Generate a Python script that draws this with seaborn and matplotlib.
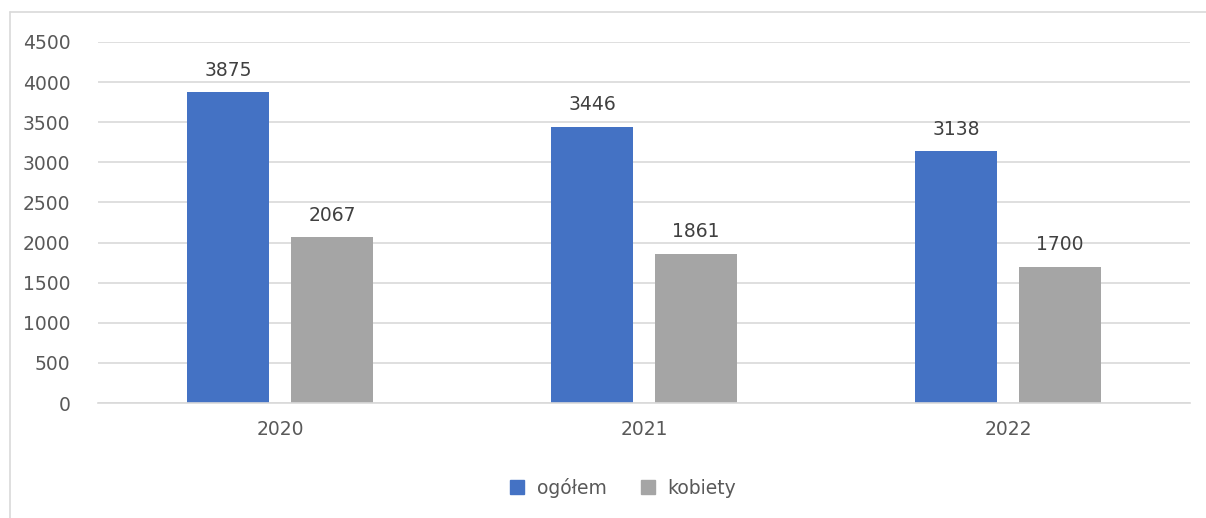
import pandas as pd
import seaborn as sns
import matplotlib.pyplot as plt
from matplotlib.lines import Line2D

# data
years = ['2020', '2021', '2022']
ogolem = [3875, 3446, 3138]
kobiety = [2067, 1861, 1700]
series_names = ['ogółem', 'kobiety']
colors = ['#4472C4', '#A5A5A5']
y_ticks = [0, 500, 1000, 1500, 2000, 2500, 3000, 3500, 4000, 4500]

df = pd.DataFrame({
    'rok': years * 2,
    'seria': [series_names[0]] * 3 + [series_names[1]] * 3,
    'liczba': ogolem + kobiety,
})

sns.set_style('white')
plt.rcParams['font.family'] = ['DejaVu Sans']

fig = plt.figure(figsize=(12.06, 5.18), dpi=100)
ax = fig.add_axes([0.0813, 0.222, 0.9054, 0.697])

sns.barplot(data=df, x='rok', y='liczba', hue='seria', palette=colors,
            width=0.571, gap=0.21, saturation=1, linewidth=0, ax=ax,
            legend=False)

# value labels above each bar
for cont in ax.containers:
    ax.bar_label(cont, fmt='%d', padding=9, fontsize=13.5, color='#404040')

ax.set_xlim(-0.5, 2.5)
ax.set_ylim(0, 4500)
ax.set_yticks(y_ticks)
ax.yaxis.grid(True, color='#D9D9D9', linewidth=1.2)
ax.set_axisbelow(True)
for s in ['top', 'right', 'left']:
    ax.spines[s].set_visible(False)
ax.spines['bottom'].set_color('#D9D9D9')
ax.spines['bottom'].set_linewidth(1.2)
ax.tick_params(axis='both', length=0, labelsize=13.5, colors='#595959')
ax.tick_params(axis='y', pad=20)
ax.tick_params(axis='x', pad=12)
ax.set_xlabel('')
ax.set_ylabel('')

# legend at the bottom
handles = [Line2D([], [], marker='s', linestyle='', markersize=10,
                  markerfacecolor=c, markeredgecolor=c) for c in colors]
fig.legend(handles, series_names, loc='center', bbox_to_anchor=(0.512, 0.058),
           ncol=2, frameon=False, fontsize=13.5, handletextpad=0.05,
           columnspacing=1.2, labelcolor='#595959')

# chart area border (left and top only visible)
fig.add_artist(Line2D([10 / 1206, 10 / 1206], [0, 1 - 12 / 518],
                      transform=fig.transFigure, color='#D9D9D9', linewidth=1.2))
fig.add_artist(Line2D([10 / 1206, 1], [1 - 12 / 518, 1 - 12 / 518],
                      transform=fig.transFigure, color='#D9D9D9', linewidth=1.2))

fig.savefig('out.png', dpi=100)
